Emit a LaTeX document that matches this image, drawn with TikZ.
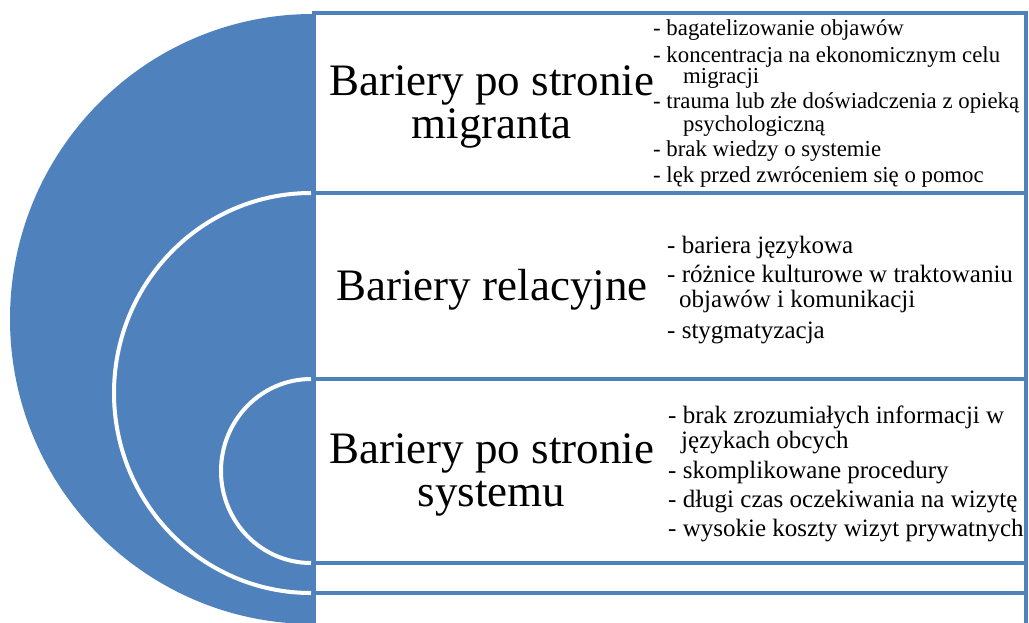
\documentclass[tikz,border=0pt]{standalone}
\usepackage{fontspec}
\setmainfont{Liberation Serif}
\definecolor{accent}{RGB}{79,129,189}
\begin{document}
\begin{tikzpicture}[x=1pt,y=-1pt,
  box/.style={draw=accent,line width=4pt,fill=white},
  ringline/.style={draw=white,line width=4pt},
  title/.style={font=\fontsize{45}{43}\selectfont,anchor=base,inner sep=0pt},
  itemA/.style={font=\fontsize{22.8}{23}\selectfont,anchor=base west,inner sep=0pt},
  itemB/.style={font=\fontsize{25}{25}\selectfont,anchor=base west,inner sep=0pt}]
\useasboundingbox (0,0) rectangle (1029,622);
% blue half disc and white rings
\fill[accent] (313,14) arc[start angle=90,end angle=270,x radius=303pt,y radius=305pt] -- cycle;
\draw[ringline] (311,193) arc[start angle=90,end angle=270,x radius=197pt,y radius=200pt];
\draw[ringline] (311,379) arc[start angle=90,end angle=270,x radius=90pt,y radius=92pt];
% boxes
\draw[box] (313.5,593) rectangle (1025.5,640);
\draw[box] (313.5,563) rectangle (1025.5,593);
\draw[box] (313.5,379) rectangle (1025.5,563);
\draw[box] (313.5,193) rectangle (1025.5,379);
\draw[box] (313.5,13) rectangle (1025.5,193);
% titles
\node[title] (t1a) at (491.5,95) {Bariery po stronie};
\node[title] (t1b) at (491.5,138) {migranta};
\node[title] (t2) at (492,300) {Bariery relacyjne};
\node[title] (t3a) at (491.5,463) {Bariery po stronie};
\node[title] (t3b) at (491.5,506) {systemu};
% box 1 items
\node[itemA] (a1) at (653,35) {- bagatelizowanie objawów};
\node[itemA] (a2) at (653,62) {- koncentracja na ekonomicznym celu};
\node[itemA] (a2b) at (683,83.5) {migracji};
\node[itemA] (a3) at (653,108.5) {- trauma lub złe doświadczenia z opieką};
\node[itemA] (a3b) at (683,131) {psychologiczną};
\node[itemA] (a4) at (653,156) {- brak wiedzy o systemie};
\node[itemA] (a5) at (653,182) {- lęk przed zwróceniem się o pomoc};
% box 2 items
\node[itemB] (b1) at (667,253) {- bariera językowa};
\node[itemB] (b2) at (667,282) {- różnice kulturowe w traktowaniu};
\node[itemB] (b2b) at (679,307) {objawów i komunikacji};
\node[itemB] (b3) at (667,338) {- stygmatyzacja};
% box 3 items
\node[itemB] (c1) at (668,423) {- brak zrozumiałych informacji w};
\node[itemB] (c1b) at (681,448) {językach obcych};
\node[itemB] (c2) at (668,478) {- skomplikowane procedury};
\node[itemB] (c3) at (668,507) {- długi czas oczekiwania na wizytę};
\node[itemB] (c4) at (668,536) {- wysokie koszty wizyt prywatnych};
\end{tikzpicture}
\end{document}
